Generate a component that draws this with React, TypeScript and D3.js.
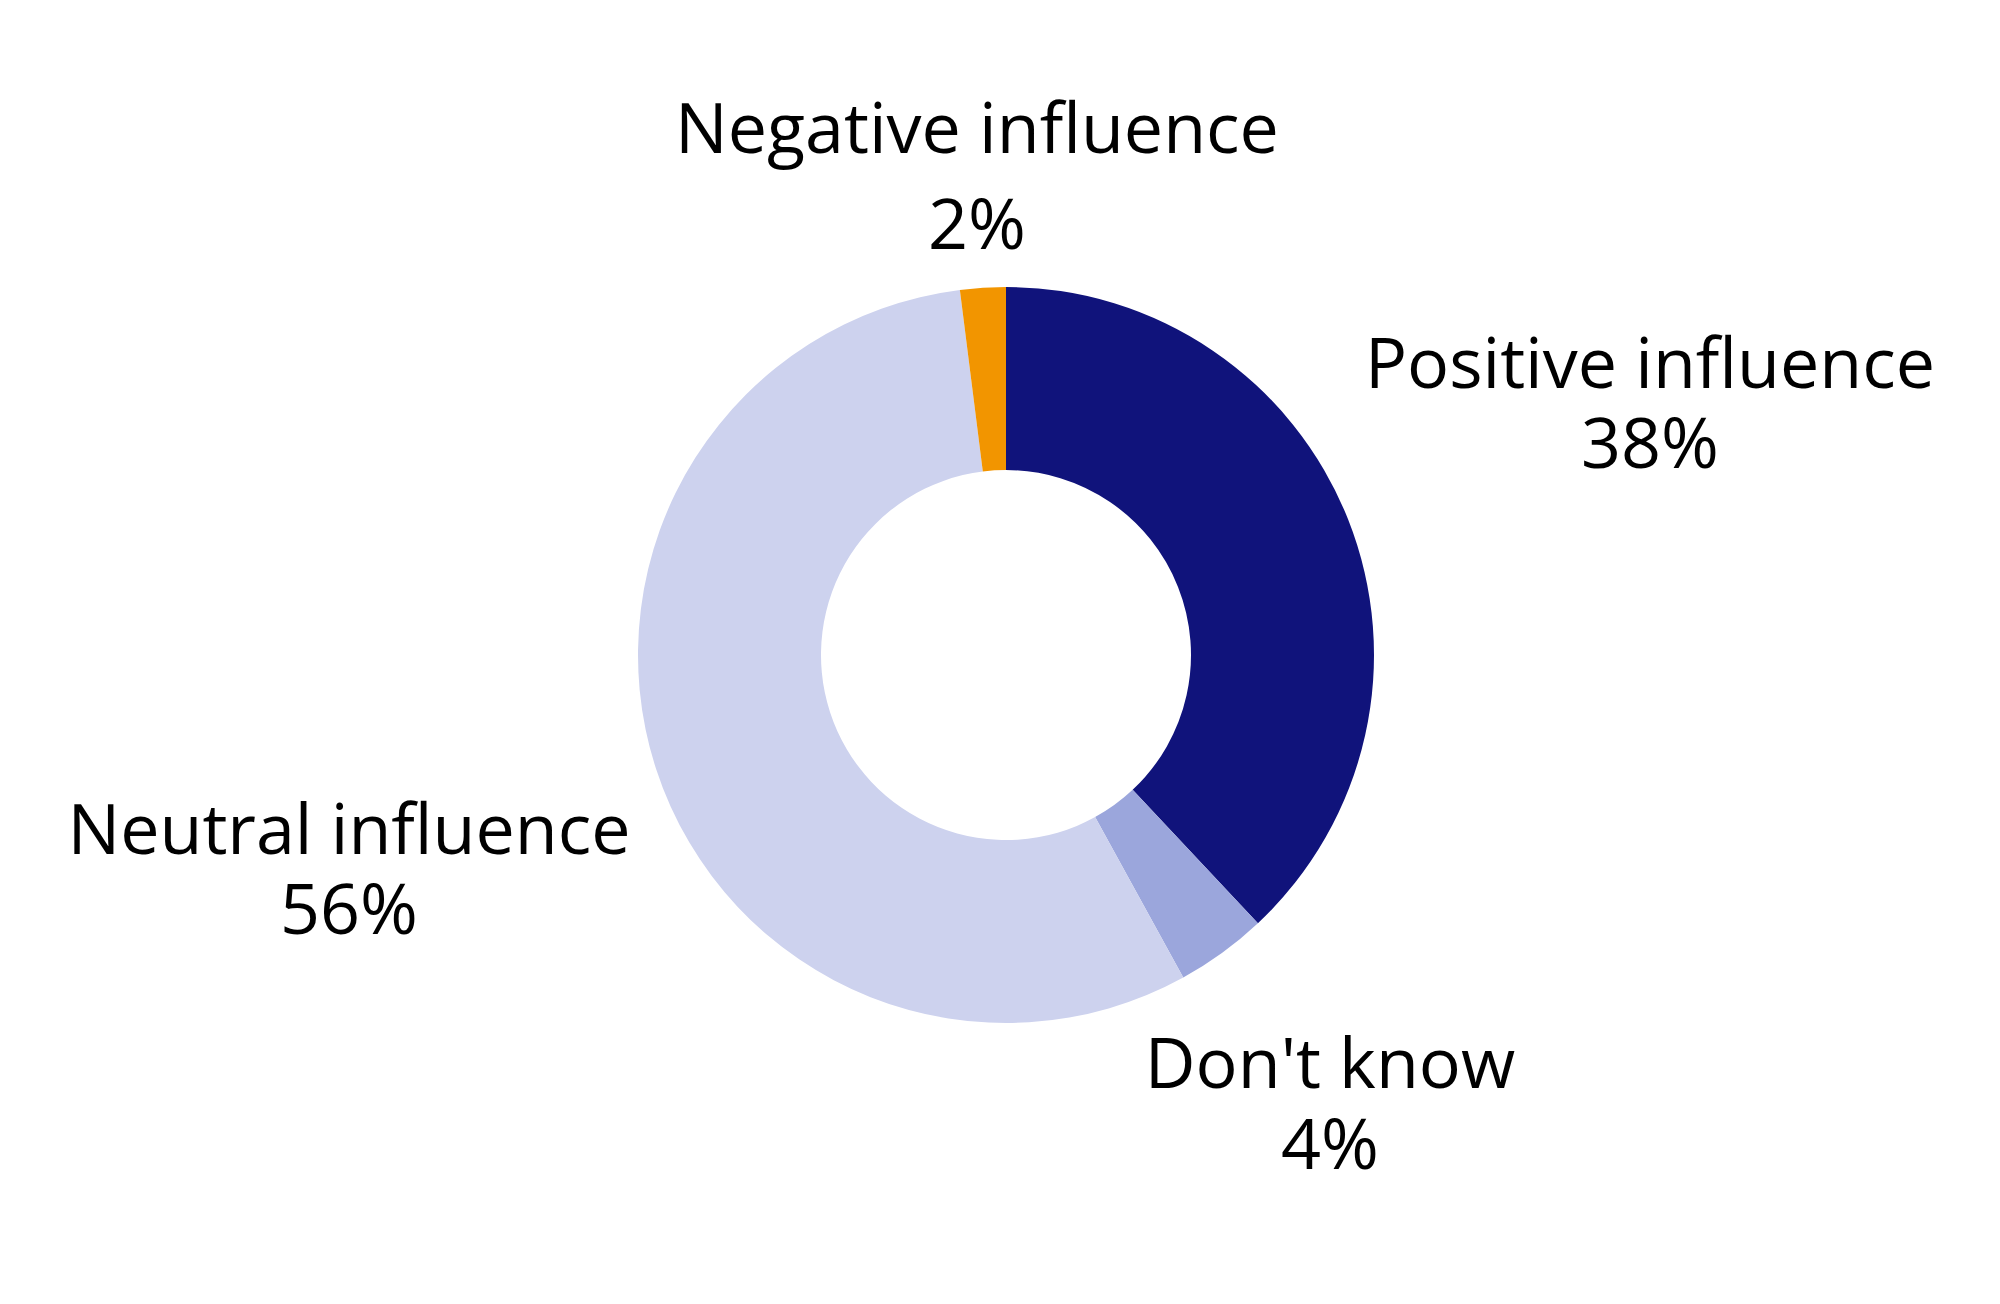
import { useRef, useEffect } from "react";
import * as d3 from "d3";

// Slices clockwise from 12 o'clock
const categories = ["Positive influence", "Don't know", "Neutral influence", "Negative influence"];
const shares = [38, 4, 56, 2];
const sliceColors = ["#10137b", "#9ba6dc", "#cdd2ee", "#f29500"];

// Label anchor points (centre of text block, first baseline) per category
const labelX = [1650, 1330, 349, 977];
const labelY = [388, 1088, 854, 153];
const labelGap = [80, 81, 80, 96];

export default function App() {
  const svgRef = useRef<SVGSVGElement>(null);

  useEffect(() => {
    if (!svgRef.current) return;
    const width = 2000;
    const height = 1304;
    const cx = 1006;
    const cy = 655;
    const outer = 368;
    const inner = 185;

    const svg = d3.select(svgRef.current);
    svg.selectAll("*").remove();
    svg.attr("width", width).attr("height", height);

    svg.append("rect").attr("width", width).attr("height", height).attr("fill", "#ffffff");

    const data = categories.map((c, i) => ({ name: c, value: shares[i], color: sliceColors[i], i }));

    const pie = d3.pie<typeof data[number]>()
      .value((d) => d.value)
      .sort(null);

    const arc = d3.arc<d3.PieArcDatum<typeof data[number]>>()
      .innerRadius(inner)
      .outerRadius(outer);

    const g = svg.append("g").attr("transform", `translate(${cx},${cy})`);

    g.selectAll("path.slice")
      .data(pie(data))
      .join("path")
      .attr("class", "slice")
      .attr("d", arc)
      .attr("fill", (d) => d.data.color);

    // Labels: name on first line, percentage beneath
    const labels = svg.selectAll("g.label")
      .data(data)
      .join("g")
      .attr("class", "label")
      .attr("font-family", "'Open Sans', 'Noto Sans', sans-serif")
      .attr("font-size", "70px")
      .attr("fill", "#000000")
      .attr("text-anchor", "middle");

    labels.append("text")
      .attr("x", (d) => labelX[d.i])
      .attr("y", (d) => labelY[d.i])
      .text((d) => d.name);

    labels.append("text")
      .attr("x", (d) => labelX[d.i])
      .attr("y", (d) => labelY[d.i] + labelGap[d.i])
      .text((d) => `${d.value}%`);
  }, []);

  return (
    <div style={{ position: "absolute", left: 0, top: 0 }}>
      <svg ref={svgRef} style={{ display: "block" }} />
    </div>
  );
}
